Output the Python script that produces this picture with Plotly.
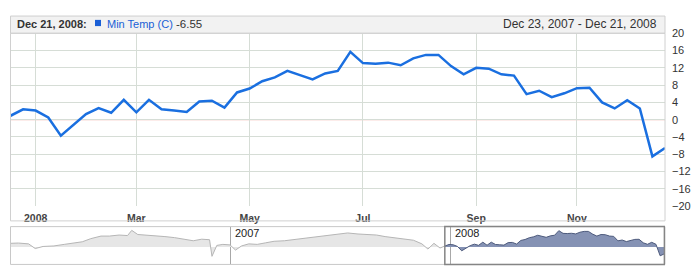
import pandas as pd
import plotly.graph_objects as go

# ---------------- data ----------------
start_date = "2007-12-23"
end_date = "2008-12-21"
dates = pd.date_range(start_date, end_date, freq="7D")
temps = [0.9, 2.4, 2.1, 0.5, -3.7, -1.3, 1.3, 2.7, 1.6, 4.6,
         1.7, 4.6, 2.4, 2.1, 1.8, 4.2, 4.4, 2.8, 6.3, 7.2,
         8.9, 9.8, 11.3, 10.3, 9.3, 10.7, 11.3, 15.7, 13.1, 12.95,
         13.2, 12.6, 14.2, 15.0, 15.0, 12.4, 10.5, 12.0, 11.8, 10.5,
         10.2, 5.9, 6.7, 5.2, 6.1, 7.3, 7.4, 4.0, 2.6, 4.5,
         2.6, -8.5, -6.55]

tick_dates = ["2008-01-06", "2008-03-02", "2008-05-04", "2008-07-06",
              "2008-09-07", "2008-11-02"]
tick_text = ["2008", "Mar", "May", "Jul", "Sep", "Nov"]
y_ticks = [-20, -16, -12, -8, -4, 0, 4, 8, 12, 16, 20]

# navigator history (before the selected range), estimated
nav_dates = ["2006-01-01", "2006-01-15", "2006-02-01", "2006-02-12", "2006-02-25",
             "2006-03-15", "2006-04-01", "2006-04-15", "2006-05-01", "2006-05-15",
             "2006-06-01", "2006-06-15", "2006-07-01", "2006-07-15", "2006-07-22",
             "2006-08-01", "2006-08-15", "2006-09-01", "2006-09-15", "2006-10-01",
             "2006-10-15", "2006-11-01", "2006-11-15", "2006-11-28", "2006-12-02",
             "2006-12-10", "2006-12-20",
             "2007-01-01", "2007-01-10", "2007-01-20", "2007-02-01", "2007-02-15",
             "2007-03-01", "2007-03-15", "2007-04-01", "2007-04-15", "2007-05-01",
             "2007-05-15", "2007-06-01", "2007-06-15", "2007-07-01", "2007-07-15",
             "2007-08-01", "2007-08-15", "2007-09-01", "2007-09-15", "2007-10-01",
             "2007-10-15", "2007-11-01", "2007-11-15", "2007-11-25", "2007-12-05",
             "2007-12-15", "2007-12-23"]
nav_vals = [3.5, 3.8, 3.0, -1.5, 0.5,
            1.0, 2.5, 4.0, 5.0, 8.0,
            10.5, 10.5, 11.5, 11.0, 16.0,
            12.0, 11.5, 11.0, 10.0, 9.0,
            7.5, 6.0, 7.5, 7.0, -9.0,
            1.5, 2.5,
            2.0, -3.0, 1.0, 3.0, 2.5,
            4.0, 5.5, 6.0, 7.0, 8.5,
            9.0, 10.5, 11.0, 12.5, 13.5,
            12.5, 12.0, 11.5, 10.0, 9.0,
            8.0, 6.5, 3.0, -2.0, 3.5,
            -1.0, 0.9]
nav_range = ["2006-01-02", "2008-12-22"]
nav_year_ticks = ["2007-01-01", "2008-01-01"]
nav_year_text = ["2007", "2008"]

series_name = "Min Temp (C)"

# ---------------- helpers ----------------
W, H = 700, 280
def px(x):
    return x / W
def py(y):
    return 1 - y / H

FONT = "Liberation Sans, Arial, sans-serif"
BLUE = "#1a6fe0"
GRID = "#d6ddd6"

fig = go.Figure()

# main line
fig.add_trace(go.Scatter(x=dates, y=temps, mode="lines",
                         line=dict(color=BLUE, width=2.5),
                         xaxis="x", yaxis="y", showlegend=False,
                         hoverinfo="skip"))

# navigator: history (grey) and selected range (blue)
fig.add_trace(go.Scatter(x=nav_dates, y=nav_vals, mode="lines",
                         line=dict(color="#b5b5b5", width=1),
                         fill="tozeroy", fillcolor="#e6e6e6",
                         xaxis="x2", yaxis="y2", showlegend=False,
                         hoverinfo="skip"))
fig.add_trace(go.Scatter(x=dates, y=temps, mode="lines",
                         line=dict(color="#4d5a7c", width=1),
                         fill="tozeroy", fillcolor="#8592b4",
                         xaxis="x2", yaxis="y2", showlegend=False,
                         hoverinfo="skip"))

shapes = []
# header bar
shapes.append(dict(type="rect", xref="paper", yref="paper",
                   x0=px(10.5), x1=px(665), y0=py(28.5), y1=py(10.5),
                   fillcolor="#f2f2f2", line=dict(color="#cfcfcf", width=1),
                   layer="below"))
# main frame
shapes.append(dict(type="rect", xref="paper", yref="paper",
                   x0=px(10.5), x1=px(665), y0=py(224.5), y1=py(28.5),
                   fillcolor="rgba(0,0,0,0)", line=dict(color="#d0d0d0", width=1),
                   layer="above"))
# zero reference line
shapes.append(dict(type="line", xref="x domain", yref="y",
                   x0=0, x1=1, y0=0, y1=0,
                   line=dict(color="#e8857a", width=1), layer="below"))
# legend square
shapes.append(dict(type="rect", xref="paper", yref="paper",
                   x0=px(95), x1=px(101), y0=py(21), y1=py(14.5),
                   fillcolor="#1a5fd6", line=dict(width=0)))
# navigator frame
shapes.append(dict(type="rect", xref="paper", yref="paper",
                   x0=px(10.5), x1=px(665), y0=py(270), y1=py(230.5),
                   fillcolor="rgba(0,0,0,0)", line=dict(color="#c8c8c8", width=1)))
# navigator selection box
shapes.append(dict(type="rect", xref="x2", yref="paper",
                   x0=start_date, x1=end_date, y0=py(270), y1=py(230.5),
                   fillcolor="rgba(0,0,0,0)", line=dict(color="#858585", width=1.5)))

annotations = []
last_label = dates[-1].strftime("%b %d, %Y").replace(" 0", " ")
first_label = dates[0].strftime("%b %d, %Y").replace(" 0", " ")
annotations.append(dict(xref="paper", yref="paper", x=px(15), y=py(19),
                        xanchor="left", yanchor="middle", showarrow=False,
                        text="<b>%s:</b>" % last_label,
                        font=dict(family=FONT, size=11, color="#333333")))
annotations.append(dict(xref="paper", yref="paper", x=px(104.5), y=py(19),
                        xanchor="left", yanchor="middle", showarrow=False,
                        text=series_name,
                        font=dict(family=FONT, size=11, color="#1a5fd6")))
annotations.append(dict(xref="paper", yref="paper", x=px(173.5), y=py(19),
                        xanchor="left", yanchor="middle", showarrow=False,
                        text="%g" % temps[-1],
                        font=dict(family=FONT, size=11.5, color="#333333")))
annotations.append(dict(xref="paper", yref="paper", x=px(659), y=py(18.5),
                        xanchor="right", yanchor="middle", showarrow=False,
                        text="%s - %s" % (first_label, last_label),
                        font=dict(family=FONT, size=12, color="#333333")))
for d, t in zip(nav_year_ticks, nav_year_text):
    annotations.append(dict(xref="x2", yref="paper", x=d, y=py(237.5),
                            xanchor="left", yanchor="middle", showarrow=False,
                            xshift=3, text=t,
                            font=dict(family=FONT, size=11, color="#222222")))

fig.update_layout(
    width=W, height=H, autosize=False,
    margin=dict(l=0, r=0, t=0, b=0),
    paper_bgcolor="white", plot_bgcolor="white",
    shapes=shapes, annotations=annotations,
    xaxis=dict(domain=[px(10.5), px(665)], type="date",
               range=[start_date, end_date],
               tickmode="array", tickvals=tick_dates, ticktext=tick_text,
               showgrid=True, gridcolor=GRID, gridwidth=1,
               ticks="", showline=False, zeroline=False,
               ticklabelstandoff=4,
               tickfont=dict(family=FONT, size=10.5, color="#444444", weight="bold"),
               fixedrange=True),
    yaxis=dict(domain=[py(209), py(28.5)], range=[-20, 20],
               side="right", anchor="x",
               tickmode="array", tickvals=y_ticks,
               showgrid=True, gridcolor=GRID, gridwidth=1,
               zeroline=False,
               ticks="", showline=False, ticklabelstandoff=6,
               tickfont=dict(family=FONT, size=11, color="#333333"),
               fixedrange=True),
    xaxis2=dict(domain=[px(10.5), px(665)], type="date", anchor="y2",
                range=nav_range,
                tickmode="array", tickvals=nav_year_ticks,
                showticklabels=False, showgrid=True, gridcolor="#a8a8a8",
                gridwidth=1, ticks="", zeroline=False, showline=False,
                fixedrange=True),
    yaxis2=dict(domain=[py(270), py(230.5)], range=[-16.8, 19.6],
                anchor="x2", showgrid=False, showticklabels=False,
                zeroline=False, ticks="", fixedrange=True),
)

fig.write_html("out.html")
